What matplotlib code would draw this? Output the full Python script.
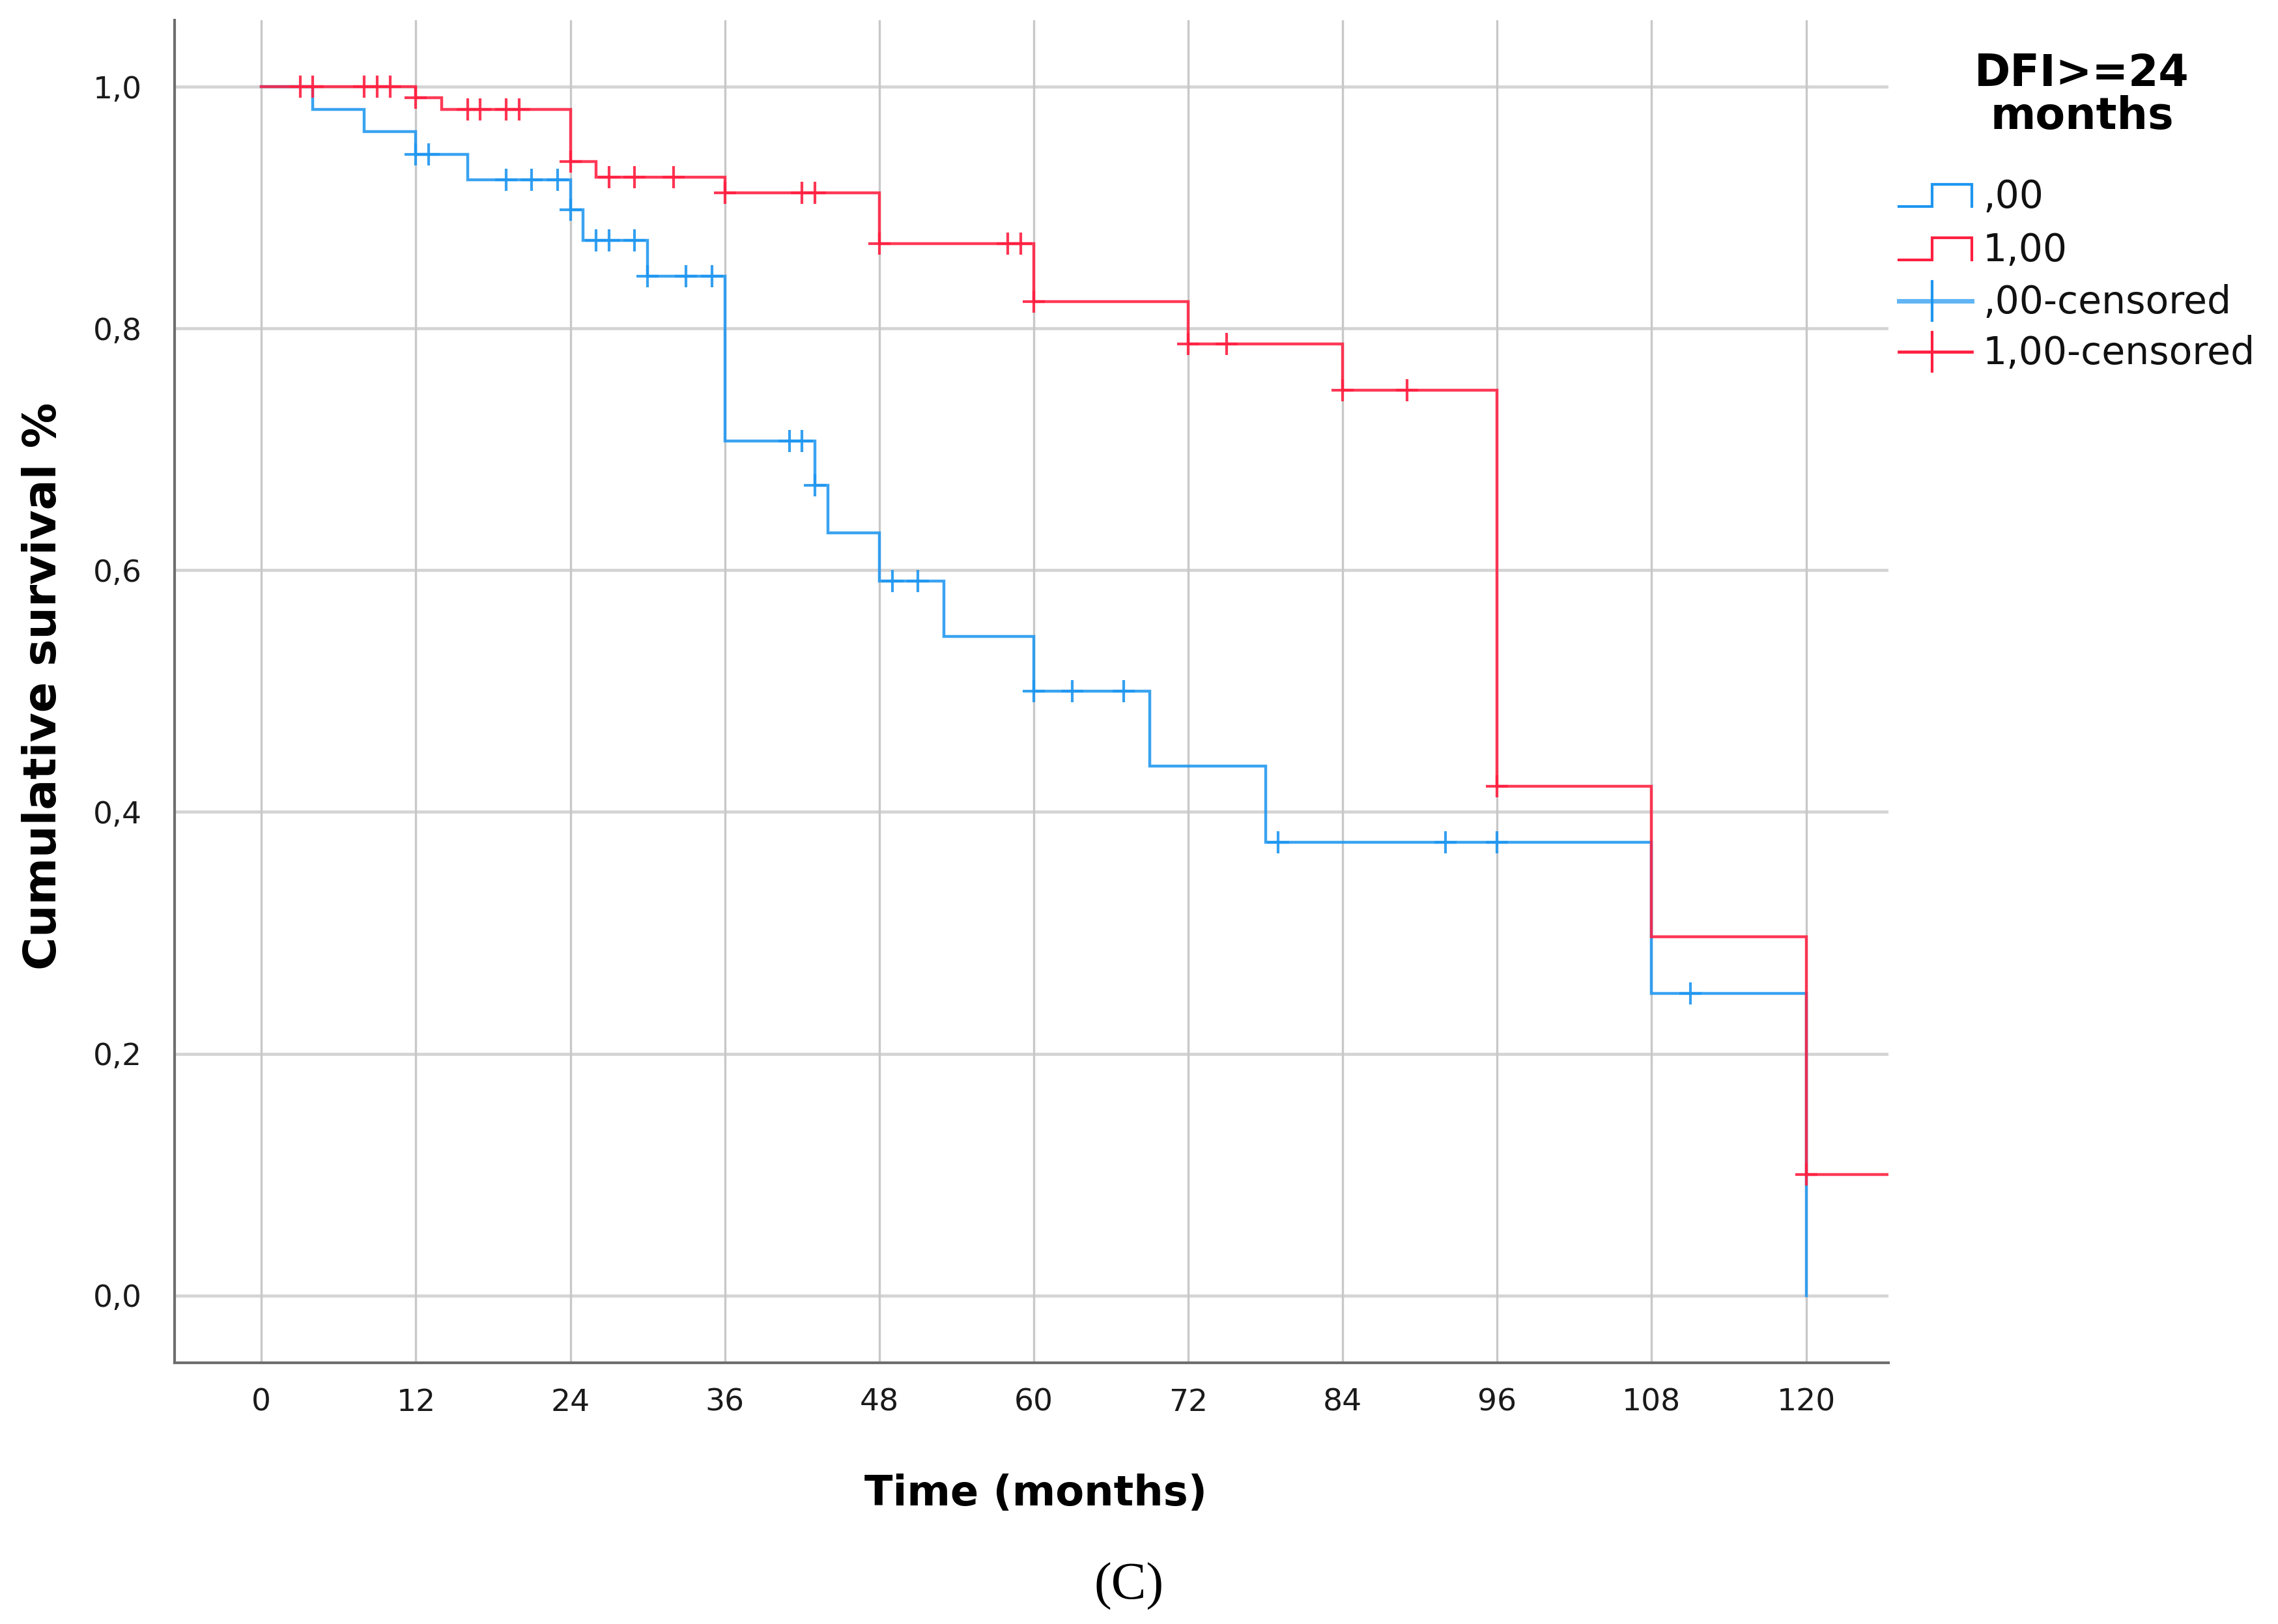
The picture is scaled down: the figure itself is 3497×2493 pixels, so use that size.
import numpy as np
import matplotlib
matplotlib.use("Agg")
import matplotlib.pyplot as plt

# ---------------- data ----------------
# Group ",00" (DFI < 24 months)
blue_event_times = [4, 8, 12, 16, 24, 25, 30, 36, 43, 44, 48, 53, 60, 69, 78, 108, 120]
blue_surv = [0.981, 0.963, 0.944, 0.923, 0.898, 0.873, 0.843, 0.707, 0.670, 0.631,
             0.591, 0.545, 0.500, 0.438, 0.375, 0.250, 0.0]
blue_censored = [12, 13, 19, 21, 23, 24, 26, 27, 29, 30, 33, 35, 41, 42, 43, 49, 51,
                 60, 63, 67, 79, 92, 96, 111]
blue_last_followup = 120

# Group "1,00" (DFI >= 24 months)
red_event_times = [12, 14, 24, 26, 36, 48, 60, 72, 84, 96, 108, 120]
red_surv = [0.991, 0.981, 0.938, 0.925, 0.912, 0.870, 0.822, 0.787, 0.749, 0.421,
            0.297, 0.100]
red_censored = [3, 4, 8, 9, 10, 12, 16, 17, 19, 20, 24, 27, 29, 32, 36, 42, 43, 48,
                58, 59, 60, 72, 75, 84, 89, 96, 120]
red_last_followup = 130

x_ticks = [0, 12, 24, 36, 48, 60, 72, 84, 96, 108, 120]
y_ticks = [0.0, 0.2, 0.4, 0.6, 0.8, 1.0]
y_tick_labels = ["0,0", "0,2", "0,4", "0,6", "0,8", "1,0"]
legend_title = "DFI>=24\nmonths"
legend_labels = [",00", "1,00", ",00-censored", "1,00-censored"]

BLUE = "#1E96F0"
RED = "#FF1F40"

W, H = 3497, 2493
fig = plt.figure(figsize=(W / 100, H / 100), dpi=100)
fig.patch.set_facecolor("white")

ax = fig.add_axes([267.6 / W, 1 - 2092 / H, (2899 - 267.6) / W, (2092 - 31) / H])
ax.set_xlim(-6.77, 126.4)
ax.set_ylim(-0.0557, 1.055)

# grid
for yt in y_ticks:
    ax.axhline(yt, color="#d4d4d4", lw=3.4, zorder=1)
for xt in x_ticks:
    ax.axvline(xt, color="#c8c8c8", lw=2.4, zorder=1)


def km_steps(times, surv, last):
    xs = [0] + list(times)
    ys = [1.0] + list(surv)
    if last > xs[-1]:
        xs.append(last)
        ys.append(ys[-1])
    return np.array(xs, float), np.array(ys, float)


def surv_at(times, surv, t):
    s = 1.0
    for tt, ss in zip(times, surv):
        if tt <= t:
            s = ss
    return s


for times, surv, cens, last, col in [
    (blue_event_times, blue_surv, blue_censored, blue_last_followup, BLUE),
    (red_event_times, red_surv, red_censored, red_last_followup, RED),
]:
    xs, ys = km_steps(times, surv, last)
    ax.plot(xs, ys, drawstyle="steps-post", color=col, lw=3.2, alpha=0.88,
            zorder=3, solid_joinstyle="miter")
    cy = [surv_at(times, surv, t) for t in cens]
    ax.plot(cens, cy, linestyle="none", marker="+", markersize=25, mew=3.0,
            color=col, alpha=0.9, zorder=4)

# axes styling
for s in ["top", "right"]:
    ax.spines[s].set_visible(False)
for s in ["left", "bottom"]:
    ax.spines[s].set_color("#6e6e6e")
    ax.spines[s].set_linewidth(3)
ax.set_xticks(x_ticks)
ax.set_xticklabels([str(v) for v in x_ticks],
                   fontdict={"family": ["Liberation Sans Narrow", "DejaVu Sans"], "size": 34})
ax.set_yticks(y_ticks)
ax.set_yticklabels(y_tick_labels, fontdict={"family": "DejaVu Sans", "size": 34})
ax.tick_params(axis="both", length=0, colors="#1a1a1a")
ax.tick_params(axis="x", pad=28)
ax.tick_params(axis="y", pad=36)

# axis titles as figure text
fig.text(67 / W, 1 - 1053 / H, "Cumulative survival %", rotation=90, ha="center",
         va="center", fontsize=50, fontweight="bold", family="DejaVu Sans")
fig.text(1590 / W, 1 - 2293 / H, "Time (months)", ha="center", va="center",
         fontsize=46, fontweight="bold", family="DejaVu Sans")
fig.text(1733 / W, 1 - 2435 / H, "(C)", ha="center", va="center",
         fontsize=58, family="Liberation Serif")

# legend drawn on an overlay in pixel coordinates
ov = fig.add_axes([0, 0, 1, 1])
ov.set_xlim(0, W)
ov.set_ylim(H, 0)
ov.axis("off")
ov.patch.set_alpha(0)

ov.text(3196, 146, legend_title, ha="center", va="center", fontsize=48,
        fontweight="bold", family="DejaVu Sans", linespacing=1.0)

x0, xm, x1 = 2915, 2966, 3027
row_y = [300, 382, 462, 540]
step_h = 34
for i, col in enumerate([BLUE, RED]):
    yc = row_y[i]
    ov.plot([x0, xm, xm, x1, x1], [yc + step_h / 2, yc + step_h / 2, yc - step_h / 2,
                                   yc - step_h / 2, yc + step_h / 2],
            color=col, lw=3.0, solid_joinstyle="miter")
for i, col in enumerate([BLUE, RED]):
    yc = row_y[2 + i]
    ov.plot([x0, x1], [yc, yc], color=col, lw=5 if i == 0 else 3.4,
            alpha=0.7 if i == 0 else 1)
    ov.plot([xm, xm], [yc - 30, yc + 30], color=col, lw=3.0)

for i, lab in enumerate(legend_labels):
    ov.text(3044, row_y[i] + 2, lab, ha="left", va="center", fontsize=42,
            family="DejaVu Sans", color="#111111")

fig.savefig("out.png", dpi=100, facecolor="white")
